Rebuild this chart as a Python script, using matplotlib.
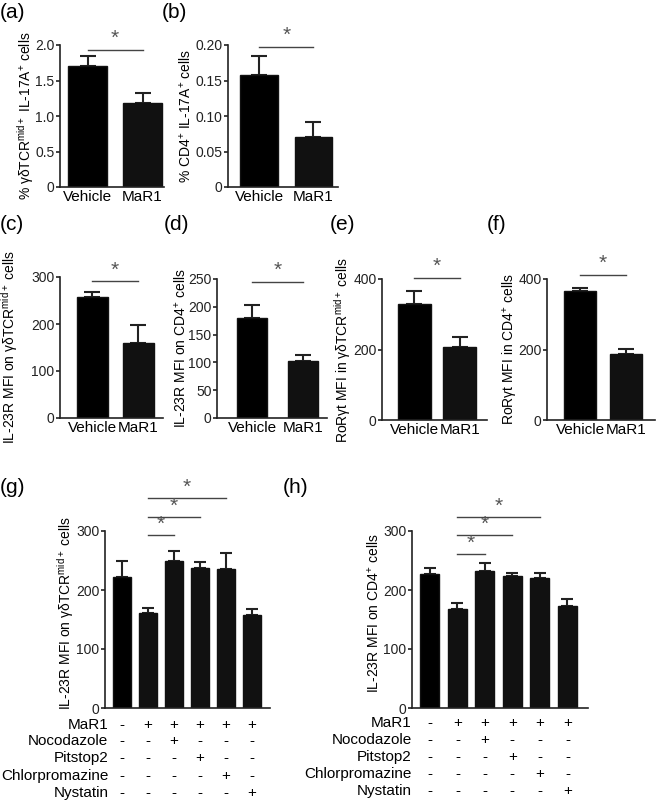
import matplotlib
matplotlib.use("Agg")
import matplotlib.pyplot as plt
import numpy as np

plt.rcParams['font.family'] = ['Liberation Sans', 'DejaVu Sans']
plt.rcParams['mathtext.fontset'] = 'custom'
plt.rcParams['mathtext.rm'] = 'Liberation Sans'
plt.rcParams['mathtext.it'] = 'Liberation Sans:italic'

W, H = 660, 802

# ---- data ----
groups2 = ['Vehicle', 'MaR1']

a_vals = [1.70, 1.18]
a_err = [0.14, 0.15]
b_vals = [0.158, 0.070]
b_err = [0.027, 0.022]
c_vals = [258, 160]
c_err = [10, 38]
d_vals = [180, 103]
d_err = [24, 10]
e_vals = [330, 208]
e_err = [35, 27]
f_vals = [365, 187]
f_err = [10, 15]

g_vals = [222, 161, 249, 237, 235, 157]
g_err = [27, 9, 17, 11, 28, 11]
h_vals = [227, 168, 232, 224, 220, 173]
h_err = [10, 10, 14, 5, 9, 12]

treat_rows = ['MaR1', 'Nocodazole', 'Pitstop2', 'Chlorpromazine', 'Nystatin']
treat_signs = [
    ['-', '+', '+', '+', '+', '+'],
    ['-', '-', '+', '-', '-', '-'],
    ['-', '-', '-', '+', '-', '-'],
    ['-', '-', '-', '-', '+', '-'],
    ['-', '-', '-', '-', '-', '+'],
]

fig = plt.figure(figsize=(W / 100, H / 100), dpi=100)


def make_ax(left, right, top, bottom):
    return fig.add_axes([left / W, 1 - bottom / H, (right - left) / W, (bottom - top) / H])


def style(ax):
    for s in ['top', 'right']:
        ax.spines[s].set_visible(False)
    for s in ['left', 'bottom']:
        ax.spines[s].set_linewidth(1.2)
        ax.spines[s].set_color('#222222')
    ax.tick_params(axis='y', length=3, width=1.2, labelsize=10, pad=1, colors='#222222')
    ax.tick_params(axis='x', length=0, labelsize=11, pad=2)


def bars(ax, vals, err, width, colors, cap):
    x = np.arange(len(vals))
    ax.bar(x, vals, width=width, color=colors, edgecolor='#111111', linewidth=1, zorder=2)
    ax.errorbar(x, vals, yerr=[np.zeros(len(err)), err], fmt='none', ecolor='#222222',
                elinewidth=1.5, capsize=cap, capthick=1.5, zorder=1)
    return x


def sig(ax, x0, x1, y, dy):
    ax.plot([x0, x1], [y, y], color='#444444', lw=1, clip_on=False)
    ax.text((x0 + x1) / 2, y + dy, '*', ha='center', va='bottom', fontsize=15, color='#555555')


def two_bar(left, right, top, bottom, xlim, width, vals, err, ymax, ticks, ticklabels,
            ylabel, ylx, label, lx, ly, sig_y, star_dy):
    ax = make_ax(left, right, top, bottom)
    bars(ax, vals, err, width, ['#000000', '#111111'], 6)
    ax.set_xlim(*xlim)
    ax.set_ylim(0, ymax)
    ax.set_yticks(ticks)
    ax.set_yticklabels(ticklabels)
    ax.set_xticks([0, 1])
    ax.set_xticklabels(groups2)
    style(ax)
    sig(ax, 0, 1, sig_y, star_dy)
    fig.text(ylx / W, 1 - ((top + bottom) / 2) / H, ylabel, rotation=90, ha='center', va='center',
             fontsize=10)
    fig.text(lx / W, 1 - ly / H, label, fontsize=15, ha='left', va='center')
    return ax


gdt = r'γδTCR$^{\rm mid+}$'
cd4 = r'CD4$^{+}$'

two_bar(60, 164, 45, 187, (-0.5, 1.39), 0.7, a_vals, a_err, 2.0,
        [0, 0.5, 1.0, 1.5, 2.0], ['0', '0.5', '1.0', '1.5', '2.0'],
        '% ' + gdt + r' IL-17A$^{+}$ cells', 26, '(a)', 0, 12, 1.93, 0.03)
two_bar(228, 338, 45, 187, (-0.57, 1.45), 0.69, b_vals, b_err, 0.20,
        [0, 0.05, 0.10, 0.15, 0.20], ['0', '0.05', '0.10', '0.15', '0.20'],
        '% ' + cd4 + r' IL-17A$^{+}$ cells', 186, '(b)', 162, 12, 0.197, 0.003)

two_bar(60, 163, 277, 418, (-0.7, 1.54), 0.68, c_vals, c_err, 300,
        [0, 100, 200, 300], ['0', '100', '200', '300'],
        'IL-23R MFI on ' + gdt + ' cells', 10, '(c)', 0, 225, 291, 4)
two_bar(217, 327, 279, 418, (-0.69, 1.47), 0.6, d_vals, d_err, 250,
        [0, 50, 100, 150, 200, 250], ['0', '50', '100', '150', '200', '250'],
        'IL-23R MFI on ' + cd4 + ' cells', 181, '(d)', 164, 225, 245, 4)
two_bar(382, 487, 279, 420, (-0.7, 1.59), 0.72, e_vals, e_err, 400,
        [0, 200, 400], ['0', '200', '400'],
        'RoRγt MFI in ' + gdt + ' cells', 343, '(e)', 330, 225, 403, 6)
two_bar(547, 655, 279, 420, (-0.72, 1.63), 0.69, f_vals, f_err, 400,
        [0, 200, 400], ['0', '200', '400'],
        'RoRγt MFI in ' + cd4 + ' cells', 510, '(f)', 487, 225, 411, 6)


def six_bar(left, right, xlim, vals, err, ylabel, ylx, label, lx, sig_levels, row_px, lab_x):
    top, bottom = 531, 708
    ax = make_ax(left, right, top, bottom)
    bars(ax, vals, err, 0.69, ['#000000'] + ['#111111'] * 5, 4.5)
    ax.set_xlim(*xlim)
    ax.set_ylim(0, 300)
    ax.set_yticks([0, 100, 200, 300])
    ax.set_xticks([])
    style(ax)
    for j, lev in zip([2, 3, 4], sig_levels):
        sig(ax, 1, j, lev, 2)
    fig.text(ylx / W, 1 - ((top + bottom) / 2 - 6) / H, ylabel, rotation=90, ha='center',
             va='center', fontsize=10)
    fig.text(lx / W, 1 - 488 / H, label, fontsize=15, ha='left', va='center')
    hgt = bottom - top
    for r, name in enumerate(treat_rows):
        yy = -(row_px[r] - bottom) / hgt
        ax.text(lab_x, yy, name, transform=ax.transAxes, ha='right', va='center', fontsize=11)
        for i, s in enumerate(treat_signs[r]):
            ax.text(i, yy, s, transform=ax.get_xaxis_transform(), ha='center', va='center',
                    fontsize=11)
    return ax


six_bar(105, 270, (-0.65, 5.69), g_vals, g_err, 'IL-23R MFI on ' + gdt + ' cells', 66,
        '(g)', 0, [293, 324, 356], [725, 741, 758, 776, 793], 0.02)
six_bar(412, 588, (-0.65, 5.75), h_vals, h_err, 'IL-23R MFI on ' + cd4 + ' cells', 374,
        '(h)', 283, [261, 293, 324], [723, 740, 757, 774, 791], 0.0)

fig.savefig('out.png', dpi=100)
